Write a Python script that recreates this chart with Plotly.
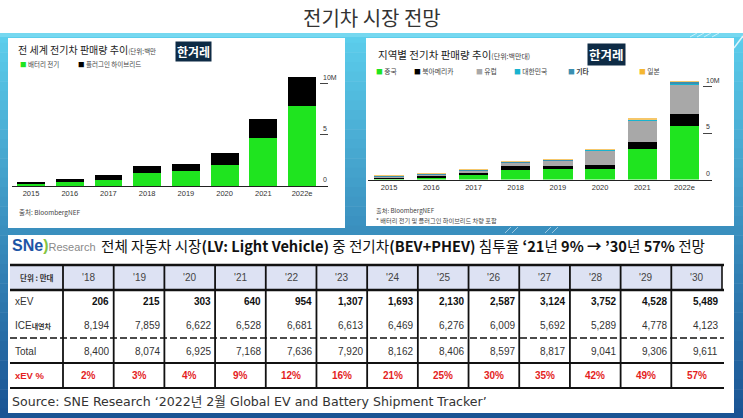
import plotly.graph_objects as go

W, H = 743, 418
KR = "Noto Sans CJK KR, Noto Sans, sans-serif"
NUM = "Liberation Sans Narrow, Liberation Sans, Arial, sans-serif"
LAT = "Liberation Sans, Arial, sans-serif"
WIDE = "DejaVu Sans, Noto Sans CJK KR, sans-serif"


def px(x):
    return x / W


def py(y):
    return 1 - y / H


# ---------------- data ----------------
years = ['2015', '2016', '2017', '2018', '2019', '2020', '2021', '2022e']
bev = [0.22, 0.36, 0.62, 1.24, 1.50, 2.06, 4.67, 7.84]
phev = [0.20, 0.33, 0.43, 0.69, 0.63, 1.18, 1.93, 2.81]

china = [0.07, 0.22, 0.50, 1.00, 1.08, 1.18, 3.26, 5.77]
north_america = [0.15, 0.17, 0.22, 0.43, 0.35, 0.36, 0.75, 1.29]
europe = [0.14, 0.18, 0.25, 0.40, 0.61, 1.61, 2.37, 3.19]
korea = [0.01, 0.01, 0.02, 0.03, 0.04, 0.05, 0.06, 0.06]
others = [0.03, 0.03, 0.04, 0.04, 0.04, 0.05, 0.06, 0.22]
japan = [0.03, 0.03, 0.05, 0.05, 0.04, 0.03, 0.03, 0.05]

y_ticks = [0, 5, 10]
y_tick_text = ['0', '5', '10M']

tbl_years = ["'18", "'19", "'20", "'21", "'22", "'23", "'24", "'25", "'26", "'27", "'28", "'29", "'30"]
xev = [206, 215, 303, 640, 954, 1307, 1693, 2130, 2587, 3124, 3752, 4528, 5489]
ice = [8194, 7859, 6622, 6528, 6681, 6613, 6469, 6276, 6009, 5692, 5289, 4778, 4123]
total = [8400, 8074, 6925, 7168, 7636, 7920, 8162, 8406, 8597, 8817, 9041, 9306, 9611]
xev_pct = [2, 3, 4, 9, 12, 16, 21, 25, 30, 35, 42, 49, 57]

GREEN = '#1fe41f'
BLACK = '#000000'
GRAY = '#a8a8a8'
CYAN = '#19b3cf'
TEAL = '#3a8fb0'
ORANGE = '#f5c76a'

fig = go.Figure()

# left chart
fig.add_bar(x=years, y=bev, marker_color=GREEN, width=0.72, xaxis='x', yaxis='y', name='배터리 전기')
fig.add_bar(x=years, y=phev, marker_color=BLACK, width=0.72, xaxis='x', yaxis='y', name='플러그인 하이브리드')

# right chart
for vals, col, nm in [(china, GREEN, '중국'), (north_america, BLACK, '북아메리카'), (europe, GRAY, '유럽'),
                      (korea, CYAN, '대한민국'), (others, TEAL, '기타'), (japan, ORANGE, '일본')]:
    fig.add_bar(x=years, y=vals, marker_color=col, width=0.70, xaxis='x2', yaxis='y2', name=nm)

fig.update_traces(marker_line_width=0, showlegend=False, hoverinfo='skip')

shapes = []
annotations = []


def rect(x0, y0, x1, y1, color, layer='below'):
    shapes.append(dict(type='rect', xref='paper', yref='paper', x0=px(x0), x1=px(x1), y0=py(y1), y1=py(y0),
                       fillcolor=color, line=dict(width=0, color=color), layer=layer))


def hline(x0, x1, y, width=1.5, color='#111', dash='solid'):
    shapes.append(dict(type='line', xref='paper', yref='paper', x0=px(x0), x1=px(x1), y0=py(y), y1=py(y),
                       line=dict(width=width, color=color, dash=dash), layer='above'))


def vline(x, y0, y1, width=1.5, color='#111'):
    shapes.append(dict(type='line', xref='paper', yref='paper', x0=px(x), x1=px(x), y0=py(y0), y1=py(y1),
                       line=dict(width=width, color=color), layer='above'))


def ann(x, y, text, size, color='#222', xanchor='left', family=KR, yanchor='middle', **kw):
    d = dict(x=px(x), y=py(y), xref='paper', yref='paper', text=text, showarrow=False,
             xanchor=xanchor, yanchor=yanchor, font=dict(size=size, color=color, family=family))
    d.update(kw)
    annotations.append(d)


# ---------------- background ----------------
top_c = (92, 206, 236)
bot_c = (26, 84, 148)
y_start, y_end, n = 33, 418, 40
step = (y_end - y_start) / n
for i in range(n):
    t = i / (n - 1)
    c = tuple(int(top_c[k] + (bot_c[k] - top_c[k]) * t) for k in range(3))
    rect(0, y_start + i * step, W, y_start + (i + 1) * step + 0.6, 'rgb(%d,%d,%d)' % c)
rect(0, 33, W, 37, 'rgb(118,216,240)')

# decorative slashes
for x0 in [690, 697, 704, 712]:
    shapes.append(dict(type='line', xref='paper', yref='paper', x0=px(x0), x1=px(x0 + 7), y0=py(37), y1=py(33),
                       line=dict(width=1, color='rgba(255,255,255,0.6)'), layer='below'))
for x0 in [505, 512, 545, 552]:
    shapes.append(dict(type='line', xref='paper', yref='paper', x0=px(x0), x1=px(x0 + 6), y0=py(233), y1=py(227),
                       line=dict(width=1, color='rgba(255,255,255,0.5)'), layer='below'))
shapes.append(dict(type='line', xref='paper', yref='paper', x0=px(734), x1=px(743), y0=py(48), y1=py(36),
                   line=dict(width=1.5, color='rgba(255,255,255,0.8)'), layer='below'))

# panels
rect(8, 38, 345, 228, 'white')
rect(366, 38, 734, 226, 'white')
rect(8, 235, 734, 413, 'white')

# ---------------- top title ----------------
ann(371.5, 17, '전기차 시장 전망', 20, color='#333', xanchor='center')

# ---------------- left chart text ----------------
ann(16, 50, "전 세계 전기차 판매량 추이<span style='font-size:6.5px;color:#444'>(단위:백만</span>", 10, color='#222')
ann(193, 52, '<b>한겨레</b>', 12, color='white', xanchor='center', bgcolor='#0e2b45', borderpad=1)
ann(18, 64.5, f"<span style='color:{GREEN}'>■</span> 배터리 전기", 6.5, color='#444')
ann(76, 64.5, f"<span style='color:{BLACK}'>■</span> 플러그인 하이브리드", 6.5, color='#444')
ann(17, 212, '출처: BloombergNEF', 6.5, color='#444')

# ---------------- right chart text ----------------
ann(376, 55, "지역별 전기차 판매량 추이<span style='font-size:7px;color:#444'>(단위:백만대)</span>", 10.5, color='#222')
ann(606, 54.5, '<b>한겨레</b>', 12.5, color='white', xanchor='center', bgcolor='#0e2b45', borderpad=1)
legend_items = [(374, GREEN, '중국'), (412, BLACK, '북아메리카'), (474, GRAY, '유럽'),
                (512, '#19b3cf', '대한민국'), (566, TEAL, '<b>기타</b>'), (637, '#f5b731', '일본')]
for x0, col, lab in legend_items:
    ann(x0, 70.5, f"<span style='color:{col}'>■</span> {lab}", 6.8, color='#444')
ann(374, 210.5, '출처: BloombergNEF', 6.2, color='#444')
ann(374, 220, '* 배터리 전기 및 플러그인 하이브리드 차량 포함', 6.2, color='#444')

# y tick labels (Bloomberg style above tick lines)
for v, t in zip(y_ticks, y_tick_text):
    annotations.append(dict(x=px(321), y=v, xref='paper', yref='y', text=t, showarrow=False, xanchor='left',
                            yanchor='bottom', yshift=1, font=dict(size=7, color='#333', family=LAT)))
    annotations.append(dict(x=px(704), y=v, xref='paper', yref='y2', text=t, showarrow=False, xanchor='left',
                            yanchor='bottom', yshift=1, font=dict(size=7, color='#333', family=LAT)))

# ---------------- table ----------------
ann(10, 246, "<span style='color:#1d55a6;font-size:16px'><b>SNe</b></span><span style='color:#86c440;font-size:16px'><b>)</b></span>"
             "<span style='color:#8a8a8a;font-size:11px;font-family:Liberation Sans Narrow, Liberation Sans'>Research</span>",
    16, family=LAT)
ann(99, 246, "전체 자동차 시장<b>(LV: Light Vehicle)</b> 중 전기차<b>(BEV+PHEV)</b> 침투율 "
             "<b>‘21</b>년 <b>9% → ’30</b>년 <b>57%</b> 전망", 14.6, color='#111')

t_left, t_right = 10, 724
first_col = 63
pitch = (722 - first_col) / len(tbl_years)
bounds = [first_col + i * pitch for i in range(len(tbl_years) + 1)]
y_top, y_head, y_dash, y_tot, y_bot = 265, 290, 338, 363, 388

rect(t_left, y_top, 722, y_head, '#dde2f3', layer='above')
hline(t_left, t_right, y_top, 2.5)
hline(t_left, t_right, y_head, 2.5)
hline(t_left, t_right, y_dash, 1.6, dash='7px,3px')
hline(t_left, t_right, y_tot, 2.2)
hline(t_left, t_right, y_bot, 2.2)
for i, b in enumerate(bounds):
    if i == len(bounds) - 1:
        vline(b, y_top, y_head, 1.6)
    else:
        vline(b, y_top, y_bot, 1.8)

ann(36.5, 277.5, '<b>단위 : 만대</b>', 7.5, color='#333', xanchor='center')
row_y = {'xev': 301, 'ice': 325, 'tot': 351, 'pct': 375.5}
ann(13, row_y['xev'], 'xEV', 10, color='#333', family=NUM)
ann(13, row_y['ice'], "ICE<span style='font-size:7px;font-family:Noto Sans CJK KR'><b>내연차</b></span>", 10, color='#333', family=NUM)
ann(13, row_y['tot'], 'Total', 10, color='#333', family=NUM)
ann(13, row_y['pct'], '<b>xEV %</b>', 9.5, color='#e41e1e', family=NUM)

for i, yl in enumerate(tbl_years):
    c = (bounds[i] + bounds[i + 1]) / 2
    r = bounds[i + 1] - 2.5
    ann(c, 277.5, yl, 10, color='#444', xanchor='center', family=NUM)
    ann(r, row_y['xev'], f"<b>{xev[i]:,}</b>", 10, color='#111', xanchor='right', family=NUM)
    ann(r, row_y['ice'], f"{ice[i]:,}", 10, color='#333', xanchor='right', family=NUM)
    ann(r, row_y['tot'], f"{total[i]:,}", 10, color='#333', xanchor='right', family=NUM)
    ann(c, row_y['pct'], f"<b>{xev_pct[i]}%</b>", 10, color='#e41e1e', xanchor='center', family=NUM)

ann(10, 401, "Source: SNE Research ‘2022년 2월 Global EV and Battery Shipment Tracker’", 12.6, color='#333',
    family=WIDE)

# ---------------- axes ----------------
axis_common = dict(showgrid=False, zeroline=False, fixedrange=True)
fig.update_layout(
    width=W, height=H, margin=dict(l=0, r=0, t=0, b=0),
    paper_bgcolor='white', plot_bgcolor='rgba(0,0,0,0)',
    barmode='stack', showlegend=False,
    xaxis=dict(domain=[px(11.65), px(328)], range=[-0.5, 7.67], anchor='y', showline=True, linecolor='#222',
               linewidth=1.2, ticks='', tickfont=dict(size=7.5, color='#333', family=LAT), **axis_common),
    yaxis=dict(domain=[py(186), py(76)], range=[0, 10.78], anchor='x', side='right', showline=False,
               ticks='inside', ticklen=8, tickwidth=1, tickcolor='#444', tickvals=y_ticks,
               showticklabels=False, **axis_common),
    xaxis2=dict(domain=[px(368), px(711.9)], range=[-0.5, 7.65], anchor='y2', showline=True, linecolor='#222',
                linewidth=1.2, ticks='', tickfont=dict(size=7.5, color='#333', family=LAT), **axis_common),
    yaxis2=dict(domain=[py(179.5), py(80)], range=[0, 10.7], anchor='x2', side='right', showline=False,
                ticks='inside', ticklen=9, tickwidth=1, tickcolor='#444', tickvals=y_ticks,
                showticklabels=False, **axis_common),
    shapes=shapes, annotations=annotations,
)

fig.write_html("out.html")
